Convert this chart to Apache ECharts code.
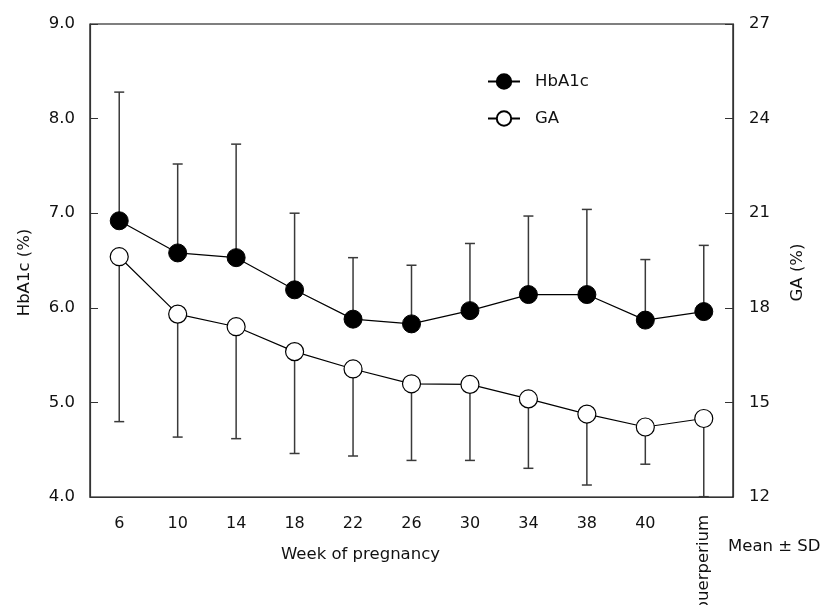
<!DOCTYPE html>
<html>
<head>
<meta charset="utf-8">
<script src="https://cdn.jsdelivr.net/npm/echarts@6/dist/echarts.min.js"></script>
<style>html,body{margin:0;padding:0;background:#fff}#c{width:820px;height:605px}</style>
</head>
<body>
<div id="c"></div>
<script>
var categories = ['6','10','14','18','22','26','30','34','38','40','puerperium'];
var hba1cMean  = [6.92,6.58,6.53,6.19,5.88,5.83,5.97,6.14,6.14,5.87,5.96];
var hba1cUpper = [8.28,7.52,7.73,7.00,6.53,6.45,6.68,6.97,7.04,6.51,6.66];
var gaMean     = [19.62,17.80,17.40,16.61,16.06,15.59,15.57,15.11,14.63,14.22,14.49];
var gaLower    = [14.39,13.90,13.85,13.38,13.30,13.16,13.16,12.91,12.38,13.04,12.01];
var leftTicks  = {min:4, max:9, interval:1};
var rightTicks = {min:12, max:27, interval:3};

var font = 'DejaVu Sans';
var txt = '#111';

function errData(mean, bound){
  return mean.map(function(v,i){ return [i, v, bound[i]]; });
}
function errRender(params, api){
  var p0 = api.coord([api.value(0), api.value(1)]);
  var p1 = api.coord([api.value(0), api.value(2)]);
  var st = {stroke:'#3a3a3a', lineWidth:1.5};
  return {type:'group', children:[
    {type:'line', shape:{x1:p0[0],y1:p0[1],x2:p1[0],y2:p1[1]}, style:st},
    {type:'line', shape:{x1:p1[0]-5,y1:p1[1],x2:p1[0]+5,y2:p1[1]}, style:st}
  ]};
}

var chart = echarts.init(document.getElementById('c'), null, {renderer:'canvas'});
chart.setOption({
  animation:false,
  backgroundColor:'#fff',
  textStyle:{fontFamily:font, color:txt},
  grid:{left:90, right:87, top:24, bottom:108, containLabel:false, outerBoundsMode:'none',
    show:true, borderColor:'#000', borderWidth:1.2, backgroundColor:'transparent'},
  legend:{
    orient:'vertical', left:482, top:68, itemWidth:32, itemHeight:18, itemGap:20,
    textStyle:{fontFamily:font, fontSize:16.5, color:txt, padding:[0,0,0,10]},
    data:['HbA1c','GA']
  },
  xAxis:[{
    type:'category', data:categories, boundaryGap:true,
    axisLine:{show:true, lineStyle:{color:'#333', width:1.2}},
    axisTick:{show:false},
    axisLabel:{interval:0, margin:19, fontSize:16, fontFamily:font, color:txt,
      formatter:function(v){ return v==='puerperium' ? '' : v; }},
    name:'Week of pregnancy', nameLocation:'middle', nameGap:49,
    nameTextStyle:{fontSize:16.5, fontFamily:font, color:txt, padding:[0,102,0,0]}
  },{
    type:'category', data:categories, boundaryGap:true, position:'bottom', offset:0,
    axisLine:{show:false}, axisTick:{show:false}, splitLine:{show:false},
    axisLabel:{interval:0, rotate:90, margin:18, fontSize:16.5, fontFamily:font, color:txt,
      formatter:function(v){ return v==='puerperium' ? v : ''; }}
  }],
  yAxis:[{
    type:'value', position:'left', min:leftTicks.min, max:leftTicks.max, interval:leftTicks.interval,
    axisLine:{show:true, lineStyle:{color:'#333', width:1.2}},
    axisTick:{show:true, inside:true, length:8, lineStyle:{color:'#333'}},
    splitLine:{show:false},
    axisLabel:{margin:15, fontSize:16.5, fontFamily:font, color:txt, formatter:function(v){return v.toFixed(1);}},
    name:'HbA1c (%)', nameLocation:'middle', nameGap:57, nameRotate:90,
    nameTextStyle:{fontSize:16.5, fontFamily:font, color:txt, padding:[0,24,0,0]}
  },{
    type:'value', position:'right', min:rightTicks.min, max:rightTicks.max, interval:rightTicks.interval,
    axisLine:{show:true, lineStyle:{color:'#333', width:1.2}},
    axisTick:{show:true, inside:true, length:8, lineStyle:{color:'#333'}},
    splitLine:{show:false},
    axisLabel:{margin:16, fontSize:16.5, fontFamily:font, color:txt},
    name:'GA (%)', nameLocation:'middle', nameGap:56, nameRotate:90,
    nameTextStyle:{fontSize:16.5, fontFamily:font, color:txt, padding:[0,24,0,0]}
  }],
  graphic:[{type:'text', left:728, top:538, style:{text:'Mean \u00b1 SD', fontSize:16.5, fontFamily:font, fill:txt}}],
  series:[
    {type:'custom', name:'hbErr', yAxisIndex:0, renderItem:errRender, data:errData(hba1cMean,hba1cUpper), z:1, silent:true,
      encode:{x:0, y:[1,2]}},
    {type:'custom', name:'gaErr', yAxisIndex:1, renderItem:errRender, data:errData(gaMean,gaLower), z:1, silent:true,
      encode:{x:0, y:[1,2]}},
    {type:'line', name:'HbA1c', yAxisIndex:0, data:hba1cMean, symbol:'circle', symbolSize:18,
      lineStyle:{color:'#000', width:1.2}, itemStyle:{color:'#000', borderColor:'#000', borderWidth:1}, z:3},
    {type:'line', name:'GA', yAxisIndex:1, data:gaMean, symbol:'circle', symbolSize:18,
      lineStyle:{color:'#000', width:1.2}, itemStyle:{color:'#fff', borderColor:'#000', borderWidth:1.2}, z:3}
  ]
});
</script>
</body>
</html>
